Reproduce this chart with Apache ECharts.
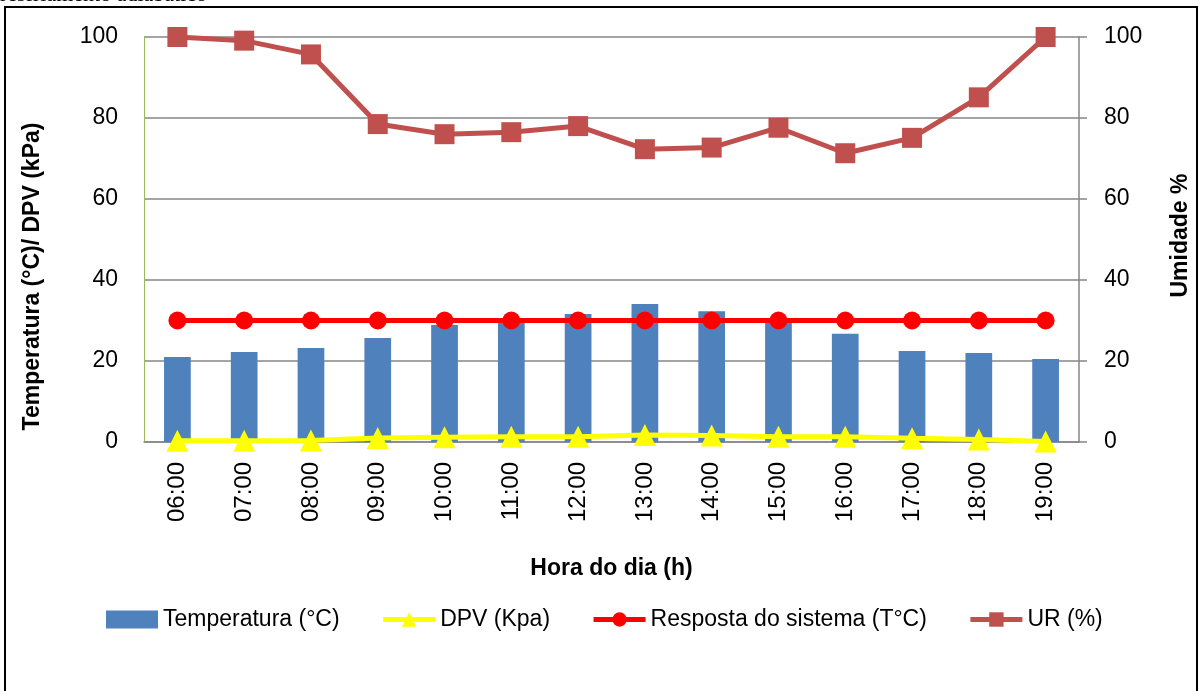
<!DOCTYPE html>
<html>
<head>
<meta charset="utf-8">
<script src="https://cdn.jsdelivr.net/npm/echarts@6/dist/echarts.min.js"></script>
<style>
  html, body { margin: 0; padding: 0; background: #fff; }
  #chart { width: 1200px; height: 691px; }
</style>
</head>
<body>
<div id="chart"></div>
<script>
var horas = ['06:00', '07:00', '08:00', '09:00', '10:00', '11:00', '12:00',
             '13:00', '14:00', '15:00', '16:00', '17:00', '18:00', '19:00'];
var temperatura = [21.0, 22.2, 23.2, 25.7, 28.9, 30.0, 31.6, 34.1, 32.3, 29.8, 26.7, 22.5, 22.0, 20.5];
var dpv = [0.3, 0.3, 0.4, 1.0, 1.2, 1.3, 1.3, 1.7, 1.6, 1.3, 1.3, 0.9, 0.6, 0.1];
var resposta = [30, 30, 30, 30, 30, 30, 30, 30, 30, 30, 30, 30, 30, 30];
var ur = [100, 99.1, 95.7, 78.5, 76.0, 76.5, 78.0, 72.3, 72.7, 77.6, 71.3, 75.1, 85.1, 100];

var font = 'Liberation Sans';

var option = {
    animation: false,
    textStyle: { fontFamily: font },
    graphic: [
        {
            type: 'rect',
            shape: { x: 5, y: 7, width: 1192, height: 700 },
            style: { fill: 'none', stroke: '#000', lineWidth: 2 }
        },
        {
            type: 'text',
            x: 0,
            y: -16,
            style: { text: 'resfriamento adiabático', font: '22px "Liberation Serif"', fill: '#000' }
        }
    ],
    legend: {
        left: 101,
        top: 603,
        itemWidth: 52,
        itemHeight: 18,
        itemGap: 41,
        textStyle: { fontSize: 23, color: '#000', fontFamily: font },
        data: [
            { name: 'Temperatura (°C)', icon: 'rect' },
            { name: 'DPV (Kpa)', lineStyle: { width: 5 } },
            { name: 'Resposta do sistema (T°C)', lineStyle: { width: 5 } },
            { name: 'UR (%)', lineStyle: { width: 5 } }
        ]
    },
    grid: { left: 144, right: 120, top: 37, bottom: 249 },
    xAxis: {
        type: 'category',
        data: horas,
        name: 'Hora do dia (h)',
        nameLocation: 'middle',
        nameGap: 115,
        nameTextStyle: { fontSize: 23, fontWeight: 'bold', color: '#000' },
        axisLine: { lineStyle: { color: '#868686', width: 1.5 } },
        axisTick: { show: false },
        axisLabel: { rotate: 90, margin: 20, fontSize: 24, color: '#000' }
    },
    yAxis: [
        {
            type: 'value',
            min: 0,
            max: 100,
            interval: 20,
            name: 'Temperatura (°C)/ DPV (kPa)',
            nameLocation: 'middle',
            nameGap: 100,
            nameTextStyle: { fontSize: 23, fontWeight: 'bold', color: '#000', padding: [0, 74, 0, 0] },
            axisLine: { show: true, lineStyle: { color: '#9BBB59', width: 1 } },
            axisTick: { show: false },
            axisLabel: { margin: 26, fontSize: 23, color: '#000' },
            splitLine: { lineStyle: { color: '#868686', width: 1.5 } }
        },
        {
            type: 'value',
            min: 0,
            max: 100,
            interval: 20,
            position: 'right',
            name: 'Umidade %',
            nameLocation: 'middle',
            nameGap: 90,
            nameTextStyle: { fontSize: 23, fontWeight: 'bold', color: '#000', padding: [0, 0, 0, 8] },
            axisLine: { show: true, lineStyle: { color: '#868686', width: 1.5 } },
            axisTick: { show: true, length: 8, lineStyle: { color: '#868686', width: 1.5 } },
            axisLabel: { margin: 25, fontSize: 23, color: '#000' },
            splitLine: { show: false }
        }
    ],
    series: [
        {
            name: 'Temperatura (°C)',
            type: 'bar',
            data: temperatura,
            barWidth: '40%',
            itemStyle: { color: '#4F81BD' },
            z: 1
        },
        {
            name: 'DPV (Kpa)',
            type: 'line',
            data: dpv,
            symbol: 'triangle',
            symbolSize: 22,
            lineStyle: { color: '#FFFF00', width: 5 },
            itemStyle: { color: '#FFFF00' },
            z: 3
        },
        {
            name: 'Resposta do sistema (T°C)',
            type: 'line',
            data: resposta,
            symbol: 'circle',
            symbolSize: 18,
            lineStyle: { color: '#FF0000', width: 5 },
            itemStyle: { color: '#FF0000' },
            z: 4
        },
        {
            name: 'UR (%)',
            type: 'line',
            yAxisIndex: 1,
            data: ur,
            symbol: 'rect',
            symbolSize: 20,
            lineStyle: { color: '#C0504D', width: 5 },
            itemStyle: { color: '#C0504D' },
            z: 5
        }
    ]
};

var myChart = echarts.init(document.getElementById('chart'));
myChart.setOption(option);
</script>
</body>
</html>
